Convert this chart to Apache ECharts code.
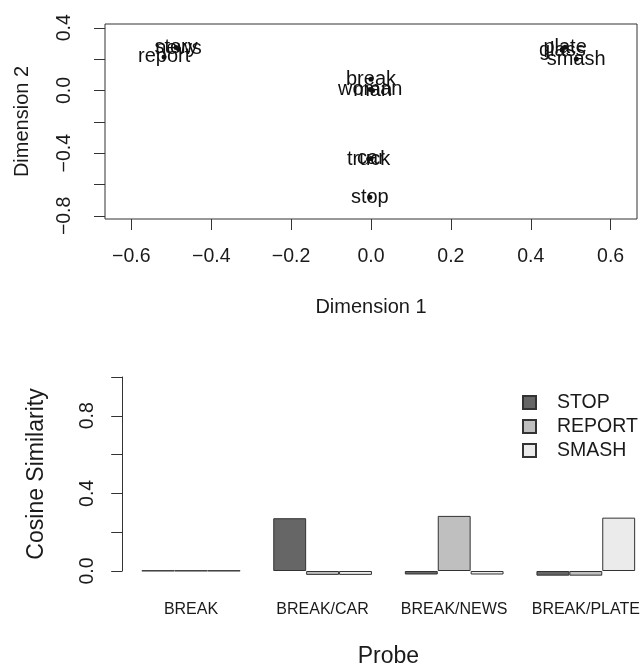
<!DOCTYPE html>
<html>
<head>
<meta charset="utf-8">
<script src="https://cdn.jsdelivr.net/npm/echarts@6/dist/echarts.min.js"></script>
<style>
  html, body { margin: 0; padding: 0; background: #fff; }
  #chart { width: 643px; height: 665px; }
</style>
</head>
<body>
<div id="chart"></div>
<script>
// word positions (MDS plot)
var words = ['report', 'story', 'news', 'break', 'woman', 'man', 'truck', 'car', 'stop', 'plate', 'glass', 'smash'];
var dim1 = [-0.518, -0.488, -0.482, 0.0, -0.002, 0.004, -0.006, 0.0, -0.003, 0.486, 0.479, 0.514];
var dim2 = [0.214, 0.274, 0.266, 0.072, 0.006, 0.0, -0.438, -0.434, -0.682, 0.276, 0.258, 0.2];
var dimTicks = [-0.6, -0.4, -0.2, 0.0, 0.2, 0.4, 0.6];
var dim2Ticks = [-0.8, -0.6, -0.4, -0.2, 0.0, 0.2, 0.4];
var dim2Labels = [-0.8, -0.4, 0.0, 0.4];

// cosine similarity bars
var probes = ['BREAK', 'BREAK/CAR', 'BREAK/NEWS', 'BREAK/PLATE'];
var stopSim = [0.002, 0.272, -0.018, -0.024];
var reportSim = [0.002, -0.02, 0.284, -0.024];
var smashSim = [0.002, -0.02, -0.018, 0.275];
var simTicks = [0.0, 0.2, 0.4, 0.6, 0.8, 1.0];
var simLabels = [0.0, 0.4, 0.8];

var font = 'Liberation Sans, Arial, Helvetica, sans-serif';
var ink = '#1a1a1a';

function fmt(v) {
    return Number(v).toFixed(1).replace('-', '\u2212');
}

var points = words.map(function (w, i) {
    return { name: w, value: [dim1[i], dim2[i]] };
});

var myChart = echarts.init(document.getElementById('chart'), null, { renderer: 'canvas' });
var option = {
    animation: false,
    textStyle: { fontFamily: font },
    grid: [
        { left: 105, top: 24, width: 532, height: 195, outerBoundsMode: 'none', show: true, borderColor: '#333', borderWidth: 1, backgroundColor: 'transparent' },
        { left: 125.2, top: 377, width: 526.4, height: 194, outerBoundsMode: 'none' }
    ],
    legend: {
        orient: 'vertical',
        left: 517,
        top: 387.5,
        itemWidth: 13,
        itemHeight: 13,
        itemGap: 4,
        icon: 'rect',
        data: ['STOP', 'REPORT', 'SMASH'],
        textStyle: { fontSize: 19.5, color: ink, padding: [0, 0, 0, 16], fontFamily: font }
    },
    xAxis: [
        {
            gridIndex: 0, type: 'value', min: -0.666, max: 0.666,
            name: 'Dimension 1', nameLocation: 'middle', nameGap: 78,
            nameTextStyle: { fontSize: 20, color: ink },
            axisLine: { show: false, onZero: false },
            splitLine: { show: false },
            axisTick: { show: true, length: 11, customValues: dimTicks, lineStyle: { color: '#333' } },
            axisLabel: { customValues: dimTicks, formatter: fmt, fontSize: 19.5, color: ink, margin: 28 }
        },
        {
            gridIndex: 1, type: 'category', data: probes,
            name: 'Probe', nameLocation: 'middle', nameGap: 74,
            nameTextStyle: { fontSize: 23, color: ink },
            axisLine: { show: false, onZero: false },
            axisTick: { show: false },
            axisLabel: { fontSize: 16, color: ink, margin: 31, interval: 0 }
        }
    ],
    yAxis: [
        {
            gridIndex: 0, type: 'value', min: -0.82, max: 0.424,
            name: 'Dimension 2', nameLocation: 'middle', nameGap: 73, nameRotate: 90,
            nameTextStyle: { fontSize: 20, color: ink },
            axisLine: { show: false, onZero: false },
            splitLine: { show: false },
            axisTick: { show: true, length: 11, customValues: dim2Ticks, lineStyle: { color: '#333' } },
            axisLabel: { customValues: dim2Labels, formatter: fmt, fontSize: 19.5, color: ink, rotate: 90, margin: 30 }
        },
        {
            gridIndex: 1, type: 'value', min: 0, max: 1, offset: 3,
            name: 'Cosine Similarity', nameLocation: 'middle', nameGap: 74, nameRotate: 90,
            nameTextStyle: { fontSize: 23, color: ink },
            axisLine: { show: true, onZero: false, lineStyle: { color: '#333' } },
            splitLine: { show: false },
            axisTick: { show: true, length: 11, customValues: simTicks, lineStyle: { color: '#333' } },
            axisLabel: { customValues: simLabels, formatter: fmt, fontSize: 19.5, color: ink, rotate: 90, margin: 25 }
        }
    ],
    series: [
        {
            type: 'scatter', xAxisIndex: 0, yAxisIndex: 0,
            symbol: 'circle', symbolSize: 5,
            itemStyle: { color: '#111', opacity: 1 },
            label: {
                show: true, position: 'inside', formatter: '{b}',
                fontSize: 20, color: '#111', opacity: 1, textBorderWidth: 0, fontFamily: font
            },
            labelLayout: { hideOverlap: false },
            data: points
        },
        {
            name: 'STOP', type: 'bar', xAxisIndex: 1, yAxisIndex: 1, clip: false,
            barWidth: 32.9, barGap: '0%',
            itemStyle: { color: '#666666', borderColor: '#333', borderWidth: 1 },
            data: stopSim
        },
        {
            name: 'REPORT', type: 'bar', xAxisIndex: 1, yAxisIndex: 1, clip: false,
            barWidth: 32.9, barGap: '0%',
            itemStyle: { color: '#bfbfbf', borderColor: '#333', borderWidth: 1 },
            data: reportSim
        },
        {
            name: 'SMASH', type: 'bar', xAxisIndex: 1, yAxisIndex: 1, clip: false,
            barWidth: 32.9, barGap: '0%',
            itemStyle: { color: '#ebebeb', borderColor: '#333', borderWidth: 1 },
            data: smashSim
        }
    ]
};
myChart.setOption(option);
</script>
</body>
</html>
